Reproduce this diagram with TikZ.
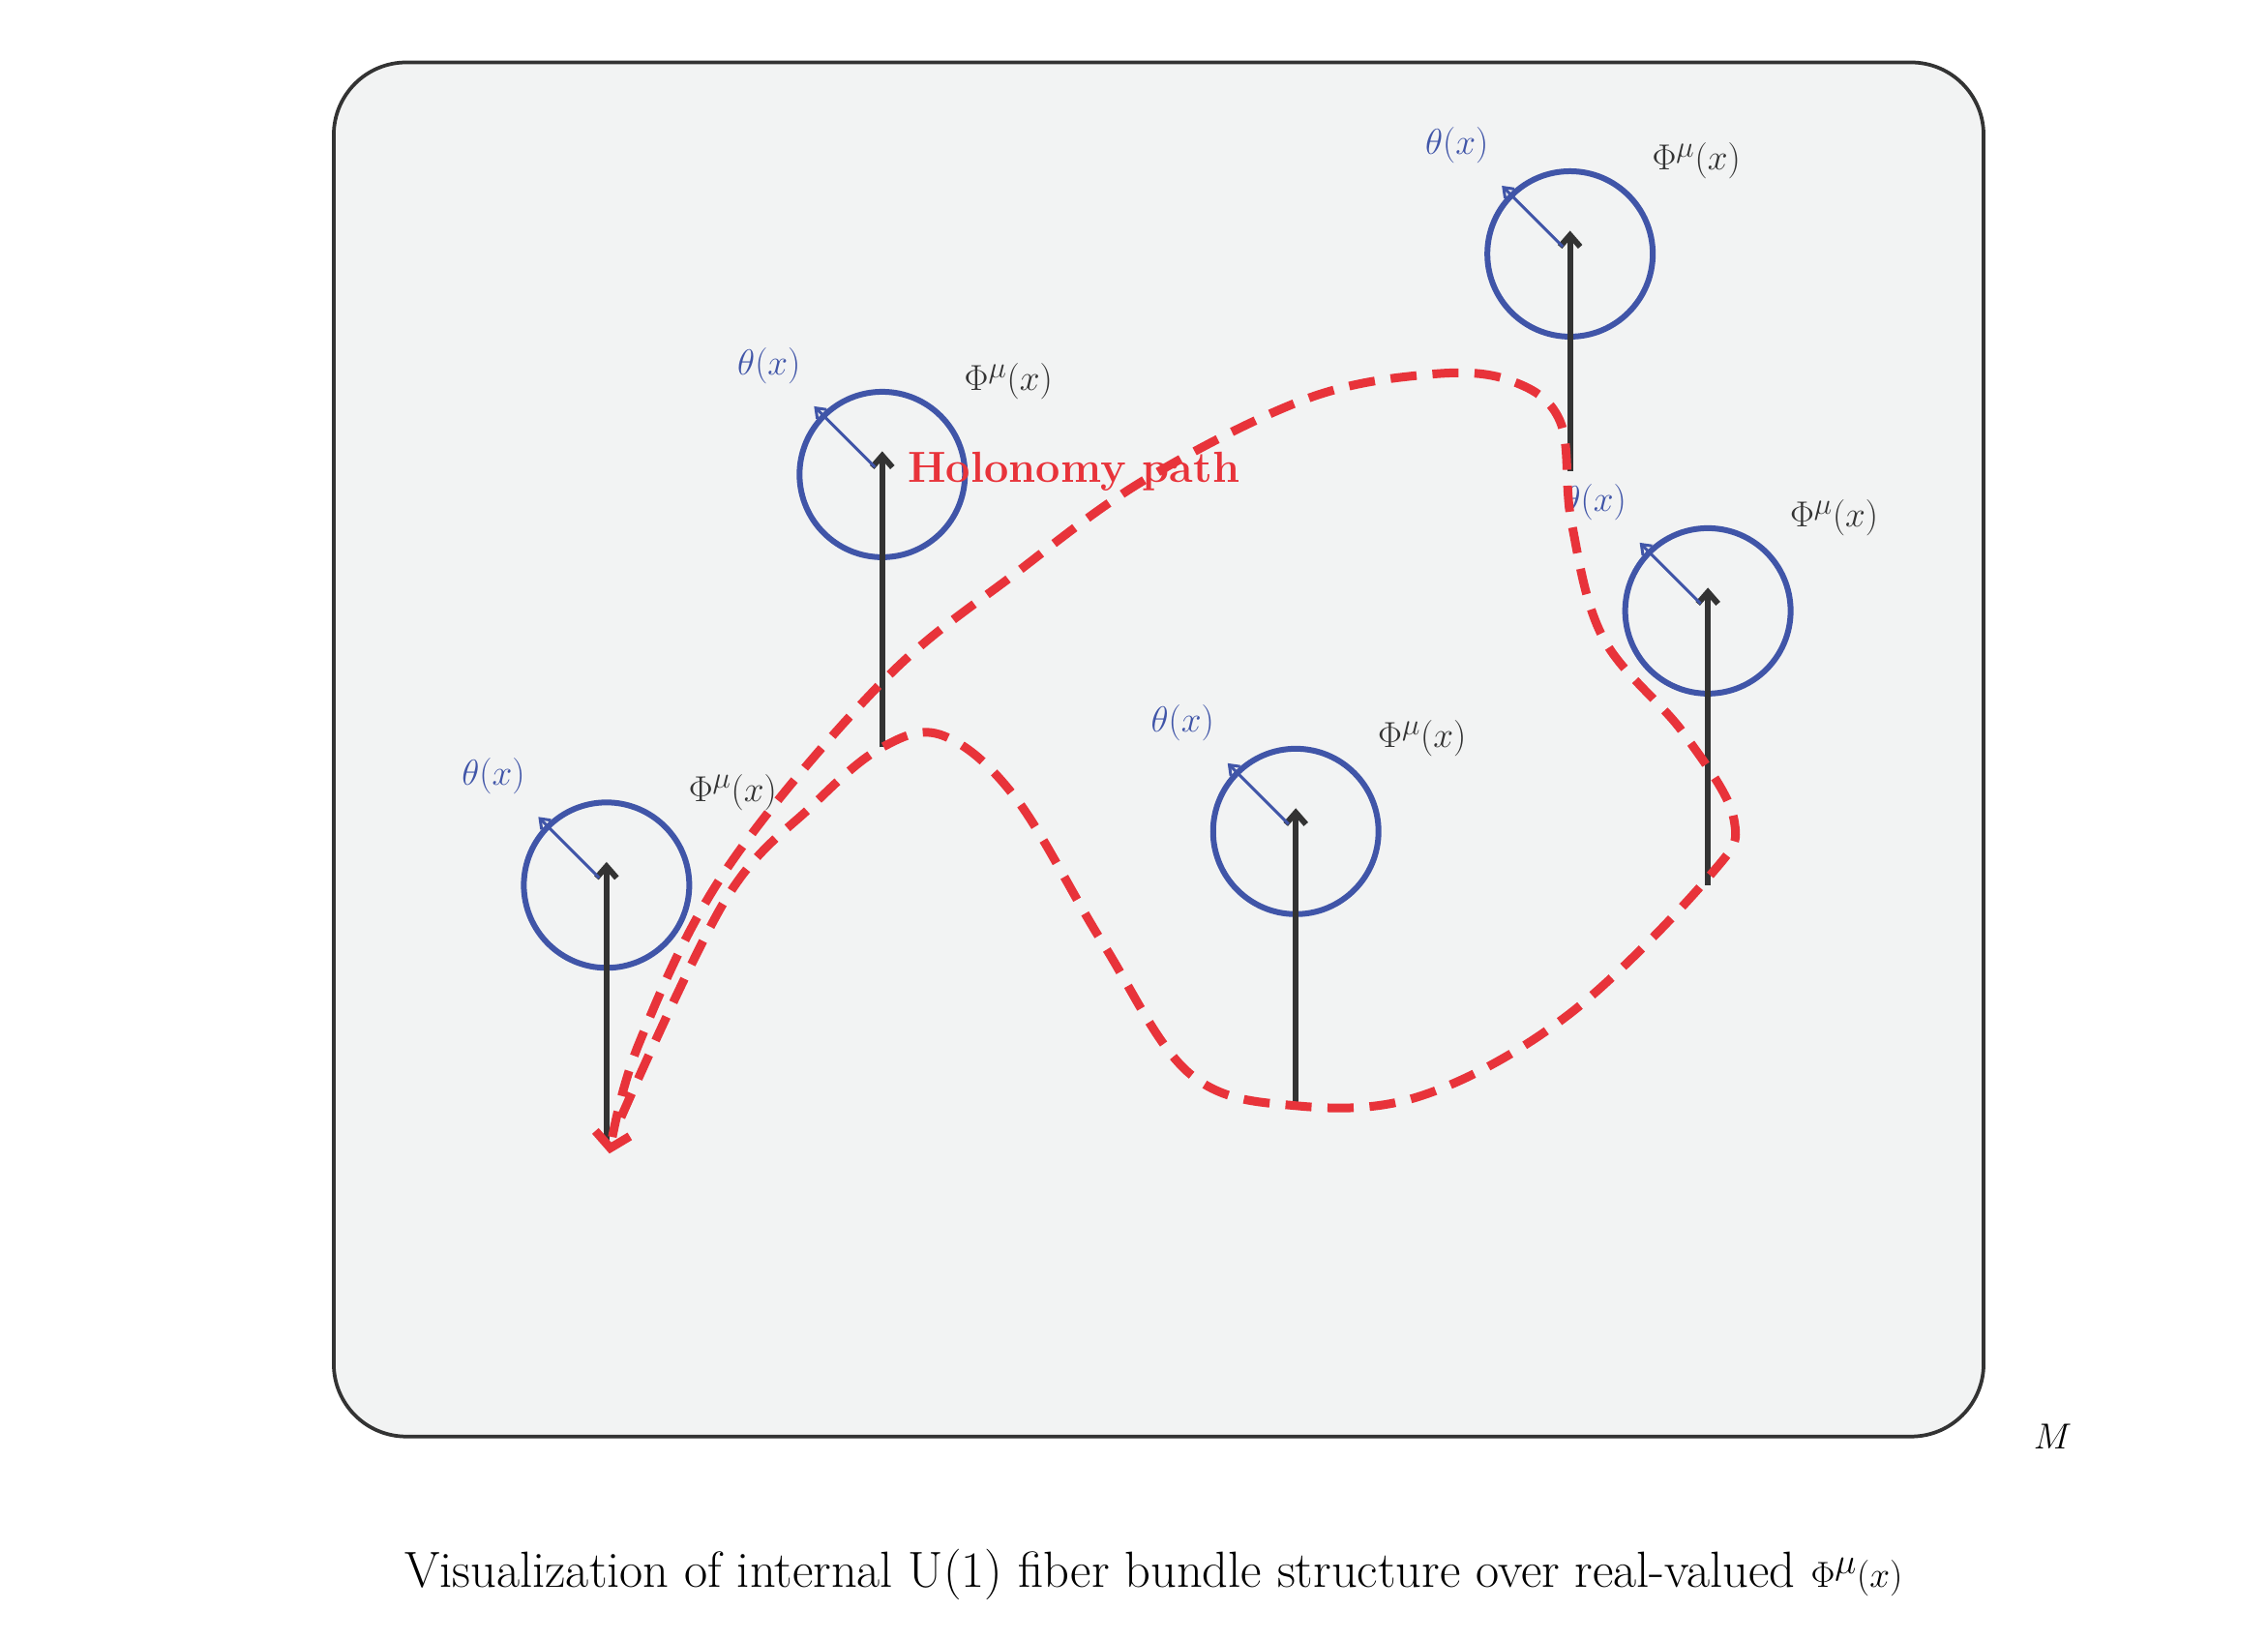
\documentclass[tikz,border=0pt]{standalone}
\usetikzlibrary{arrows.meta}
\begin{document}
\begin{tikzpicture}[x=1pt,y=-1pt,
  fib/.style={draw=black!80,line width=4pt,-{Straight Barb[length=8pt,width=14pt]}},
  ring/.style={draw=blueC,line width=4pt},
  th/.style={draw=blueC,line width=2pt,-{Straight Barb[length=6pt,width=9pt]}},
  lab/.style={font=\fontsize{32}{36}\selectfont,inner sep=0pt}]
\definecolor{blueC}{HTML}{4055A8}
\definecolor{redC}{HTML}{E8333A}
\definecolor{bgC}{HTML}{F2F3F3}
\useasboundingbox (0,0) rectangle (1563,1130);
\draw[fill=bgC,draw=black!80,line width=2.5pt,rounded corners=50pt] (230,43) rectangle (1367,990);
\node[font=\fontsize{36}{40}\selectfont,anchor=west] (M) at (1398,990) {$M$};
\node[font=\fontsize{35}{40}\selectfont] (cap) at (795,1085) {Visualization of internal U(1) fiber bundle structure over real-valued $\Phi^\mu(x)$};
% fibers
\foreach \n/\cx/\cy/\by in {a/418/610/790, b/608/327/515, c/893/573/762, d/1082/175/325, e/1177/421/610}{
  \coordinate (\n c) at (\cx,\cy);
  \coordinate (\n b) at (\cx,\by);
  \coordinate (\n t) at (\cx,\cy-16);
  \draw[ring] (\n c) circle (57);
  \draw[fib] (\n b) -- (\n t);
  \coordinate (\n s) at (\cx-5,\cy-5);
  \coordinate (\n h) at (\cx-47,\cy-47);
  \draw[th] (\n s) -- (\n h);
  \node[lab,text=blueC] (\n th) at (\cx-78,\cy-75) {$\theta(x)$};
  \node[lab,text=black!80] (\n ph) at (\cx+87,\cy-64) {$\Phi^\mu(x)$};
}
% holonomy path
\draw[redC,line width=6pt,dash pattern=on 18pt off 11pt,-{Straight Barb[length=10pt,width=24pt]}]
 plot[smooth,tension=0.6] coordinates{(428,770) (500,620) (560,555) (608,515) (650,507) (700,550) (760,650) (820,740) (893,762) (980,755) (1080,700) (1177,605) (1195,565) (1160,505) (1105,440) (1083,360) (1075,290) (1040,262) (985,258) (900,275) (790,330) (700,395) (608,470) (500,600) (440,720) (420,795)};
\node[text=redC,font=\bfseries\fontsize{30}{34}\selectfont] (hol) at (740,325) {Holonomy path};
\end{tikzpicture}
\end{document}
